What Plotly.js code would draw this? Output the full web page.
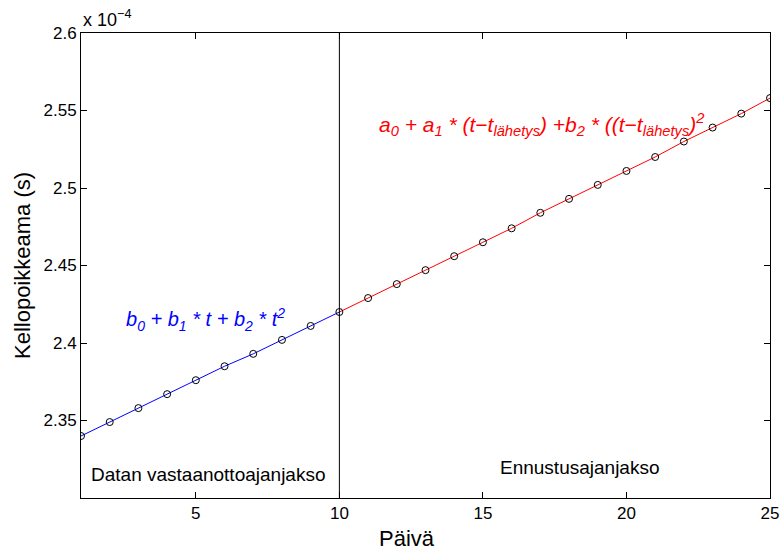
<!DOCTYPE html>
<html><head><meta charset="utf-8">
<script src="https://cdn.plot.ly/plotly-3.0.1.min.js"></script>
<style>html,body{margin:0;padding:0;background:#fff}#c{width:780px;height:554px}</style>
</head><body><div id="c"></div>
<script>
const daysFit = [1,2,3,4,5,6,7,8,9,10];
const offsetFit = [2.340,2.349,2.358,2.367,2.376,2.385,2.393,2.402,2.411,2.420];
const daysPred = [10,11,12,13,14,15,16,17,18,19,20,21,22,23,24,25];
const offsetPred = [2.420,2.429,2.438,2.447,2.456,2.465,2.474,2.484,2.493,2.502,2.511,2.520,2.530,2.539,2.548,2.558];
const xTicks = [5,10,15,20,25];
const yTicks = [2.35,2.4,2.45,2.5,2.55,2.6];
const yTickText = ['2.35','2.4','2.45','2.5','2.55','2.6'];
const splitDay = 10;

const allDays = daysFit.concat(daysPred.slice(1));
const allOffsets = offsetFit.concat(offsetPred.slice(1));

const font = 'Liberation Sans, Arial, Helvetica, sans-serif';
const traces = [
  {x: daysFit, y: offsetFit, mode:'lines', line:{color:'#0000ff', width:1}, hoverinfo:'skip'},
  {x: daysPred, y: offsetPred, mode:'lines', line:{color:'#ff0000', width:1}, hoverinfo:'skip'},
  {x: allDays, y: allOffsets, mode:'markers', marker:{symbol:'circle-open', size:7, color:'#000', line:{width:1, color:'#000'}}}
];
const layout = {
  width:780, height:554, showlegend:false,
  paper_bgcolor:'#fff', plot_bgcolor:'#fff',
  margin:{l:81, r:10, t:33, b:56},
  font:{family:font, size:17, color:'#000'},
  xaxis:{range:[1,25], tickvals:xTicks, ticks:'inside', ticklen:6, tickcolor:'#000',
    showline:true, linecolor:'#000', linewidth:1, mirror:'ticks', showgrid:false, zeroline:false,
    tickfont:{size:17}},
  yaxis:{range:[2.30,2.60], tickvals:yTicks, ticktext:yTickText, ticks:'inside', ticklen:6, tickcolor:'#000',
    showline:true, linecolor:'#000', linewidth:1, mirror:'ticks', showgrid:false, zeroline:false,
    tickfont:{size:17}, title:{text:'Kellopoikkeama (s)', font:{size:22}, standoff:6}},
  shapes:[{type:'line', xref:'x', yref:'paper', x0:splitDay, x1:splitDay, y0:0, y1:1, line:{color:'#000', width:1}}],
  annotations:[
    {xref:'paper', yref:'paper', x:0.473, y:0, xanchor:'center', yanchor:'bottom', yshift:-55, showarrow:false,
      text:'Päivä', font:{size:22}},
    {xref:'paper', yref:'paper', x:0, y:1, xanchor:'left', yanchor:'bottom', yshift:1, showarrow:false,
      text:'x 10<sup>−4</sup>', font:{size:18}},
    {xref:'x', yref:'y', x:5.32, y:2.415, showarrow:false, xanchor:'center', yanchor:'middle',
      text:'<i>b<sub>0</sub> + b<sub>1</sub> * t + b<sub>2</sub> * t<sup>2</sup></i>', font:{size:20, color:'#0000ff'}},
    {xref:'x', yref:'y', x:17.03, y:2.541, showarrow:false, xanchor:'center', yanchor:'middle',
      text:'<i>a<sub>0</sub> + a<sub>1</sub> * (t−t<sub>lähetys</sub>) +b<sub>2</sub> * ((t−t<sub>lähetys</sub>)<sup>2</sup></i>', font:{size:21, color:'#ff0000'}},
    {xref:'x', yref:'y', x:5.45, y:2.315, showarrow:false, xanchor:'center', yanchor:'middle',
      text:'Datan vastaanottoajanjakso', font:{size:19}},
    {xref:'x', yref:'y', x:18.37, y:2.3195, showarrow:false, xanchor:'center', yanchor:'middle',
      text:'Ennustusajanjakso', font:{size:19}}
  ]
};
Plotly.newPlot('c', traces, layout, {displayModeBar:false, staticPlot:true});
</script></body></html>
